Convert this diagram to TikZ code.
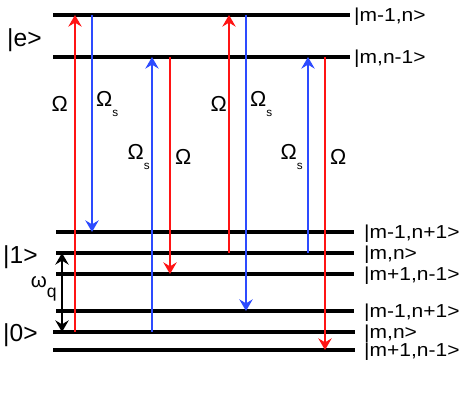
\documentclass[tikz,border=0pt]{standalone}
\usepackage{fontspec}
\setmainfont{Liberation Sans}
\newfontfamily\ketfont[FakeStretch=1.12]{Liberation Sans}
\usetikzlibrary{arrows.meta}

\definecolor{pumpred}{RGB}{255,20,20}
\definecolor{stokesblue}{RGB}{45,75,255}
\newcommand{\lowsub}[1]{\raisebox{-0.45em}{\fontsize{10}{12}\selectfont #1}}

\begin{document}
\begin{tikzpicture}[
    x=0.03cm, y=-0.03cm,
    >={Stealth[length=10pt,width=11.5pt,inset=3.5pt]},
    font=\fontsize{17.5}{20}\selectfont,
    level/.style={line width=2.6pt},
    pump/.style={pumpred, line width=1pt},
    stokes/.style={stokesblue, line width=1pt},
    ket/.style={anchor=west, inner sep=0pt, yshift=-1.5pt,
        font=\ketfont\fontsize{16}{18}\selectfont},
    bigket/.style={anchor=west, inner sep=0pt, font=\fontsize{21}{24}\selectfont},
    rabi/.style={inner sep=0pt, font=\fontsize{18.5}{22}\selectfont}
]

% -----------------------
% Frame
% -----------------------
\useasboundingbox (0,0) rectangle (463,402);

% -----------------------
% Levels
% -----------------------
\coordinate (E1) at (0,15);
\coordinate (E2) at (0,57);
\coordinate (A1) at (0,232);
\coordinate (A2) at (0,253);
\coordinate (A3) at (0,274);
\coordinate (G1) at (0,311);
\coordinate (G2) at (0,332);
\coordinate (G3) at (0,350);

\draw[level] (53,0 |- E1) -- (350,0 |- E1);
\draw[level] (53,0 |- E2) -- (350,0 |- E2);
\draw[level] (56,0 |- A1) -- (354,0 |- A1);
\draw[level] (56,0 |- A2) -- (354,0 |- A2);
\draw[level] (56,0 |- A3) -- (354,0 |- A3);
\draw[level] (56,0 |- G1) -- (354,0 |- G1);
\draw[level] (53,0 |- G2) -- (355,0 |- G2);
\draw[level] (53,0 |- G3) -- (355,0 |- G3);

% -----------------------
% State labels
% -----------------------
\node[ket] (kE1) at (354,0 |- E1) {|m-1,n>};
\node[ket] (kE2) at (354,0 |- E2) {|m,n-1>};
\node[ket] (kA1) at (364,0 |- A1) {|m-1,n+1>};
\node[ket] (kA2) at (364,0 |- A2) {|m,n>};
\node[ket] (kA3) at (364,0 |- A3) {|m+1,n-1>};
\node[ket] (kG1) at (364,0 |- G1) {|m-1,n+1>};
\node[ket] (kG2) at (364,0 |- G2) {|m,n>};
\node[ket] (kG3) at (364,0 |- G3) {|m+1,n-1>};

\node[bigket] (ke) at (7,40)  {|e>};
\node[bigket] (k1) at (3,257) {|1>};
\node[bigket] (k0) at (3,335) {|0>};

% -----------------------
% Qubit splitting
% -----------------------
\draw[<->, line width=1.1pt] (62,0 |- A2) -- (62,0 |- G2);
\node[anchor=east, inner sep=0pt] (wq) at (57,289)
    {ω\raisebox{-0.5em}{\fontsize{15}{16}\selectfont q}};

% -----------------------
% Transitions
% -----------------------
\draw[pump,->]   (75,0 |- G2)  -- (75,0 |- E1);
\draw[stokes,->] (92,0 |- E1)  -- (92,0 |- A1);
\draw[stokes,->] (152,0 |- G2) -- (152,0 |- E2);
\draw[pump,->]   (170,0 |- E2) -- (170,0 |- A3);
\draw[pump,->]   (229,0 |- A2) -- (229,0 |- E1);
\draw[stokes,->] (246,0 |- E1) -- (246,0 |- G1);
\draw[stokes,->] (308,0 |- A2) -- (308,0 |- E2);
\draw[pump,->]   (325,0 |- E2) -- (325,0 |- G3);

% -----------------------
% Rabi labels
% -----------------------
\node[rabi, anchor=east] at (68,104)  {Ω};
\node[rabi, anchor=west] at (96,104)  {Ω\lowsub{s}};
\node[rabi, anchor=east] at (150,157) {Ω\lowsub{s}};
\node[rabi, anchor=west] at (175,157) {Ω};
\node[rabi, anchor=east] at (227,104) {Ω};
\node[rabi, anchor=west] at (250,104) {Ω\lowsub{s}};
\node[rabi, anchor=east] at (303,157) {Ω\lowsub{s}};
\node[rabi, anchor=west] at (330,157) {Ω};

\end{tikzpicture}
\end{document}
